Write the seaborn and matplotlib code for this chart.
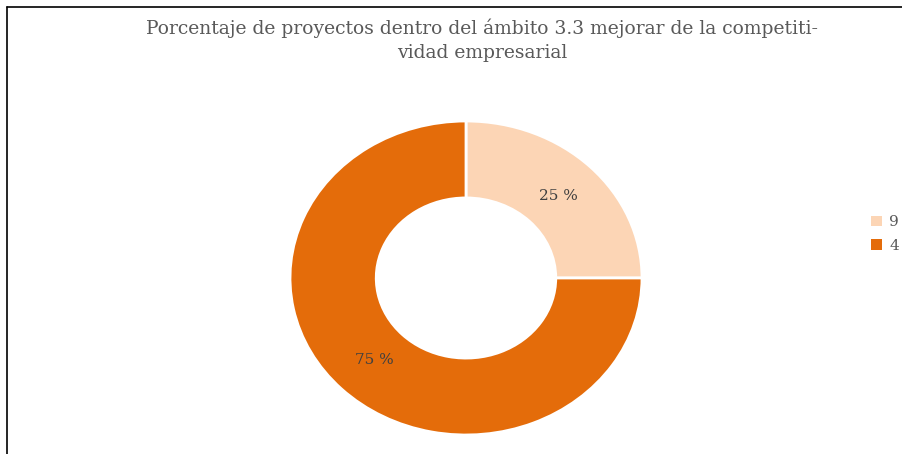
import matplotlib
matplotlib.use("Agg")
import matplotlib.pyplot as plt
from matplotlib.lines import Line2D
from matplotlib.patches import Patch
import seaborn as sns

categories = ["9", "4"]
values = [25, 75]
colors = ["#FCD5B5", "#E46C0A"]
title_lines = ["Porcentaje de proyectos dentro del ámbito 3.3 mejorar de la competiti-",
               "vidad empresarial"]

sns.set_theme(style="white")
plt.rcParams['font.family'] = ['DejaVu Serif']

W, H = 902, 454
fig = plt.figure(figsize=(W / 100, H / 100), dpi=100)
fig.patch.set_facecolor("white")

cx, cy, rx, ry = 466, 278, 176, 157
ax = fig.add_axes([(cx - rx) / W, (H - cy - ry) / H, 2 * rx / W, 2 * ry / H])
wedges, texts, autotexts = ax.pie(
    values, colors=colors, startangle=90, counterclock=False,
    autopct=lambda p: f"{p:.0f} %", pctdistance=0.74,
    wedgeprops=dict(width=0.49, edgecolor="white", linewidth=2),
    textprops=dict(color="#404040", fontsize=11))
ax.set_aspect("auto")
ax.set_xlim(-1, 1)
ax.set_ylim(-1, 1)
ax.axis("off")

fig.text(482 / W, 1 - 28 / H, title_lines[0], ha="center", va="center",
         fontsize=13.5, color="#595959")
fig.text(482 / W, 1 - 53 / H, title_lines[1], ha="center", va="center",
         fontsize=13.5, color="#595959")

handles = [Patch(facecolor=c, edgecolor="none") for c in colors]
fig.legend(handles, categories, loc="center left", bbox_to_anchor=(871 / W, 1 - 234 / H),
           frameon=False, fontsize=11, handlelength=0.7, handleheight=0.7,
           handletextpad=0.5, labelspacing=0.6, labelcolor="#595959",
           borderpad=0, borderaxespad=0)

fig.add_artist(Line2D([7 / W, 1], [1 - 7 / H, 1 - 7 / H], color="black", lw=1.2, transform=fig.transFigure))
fig.add_artist(Line2D([7 / W, 7 / W], [0, 1 - 7 / H], color="black", lw=1.2, transform=fig.transFigure))

fig.savefig("out.png", dpi=100, facecolor="white")
